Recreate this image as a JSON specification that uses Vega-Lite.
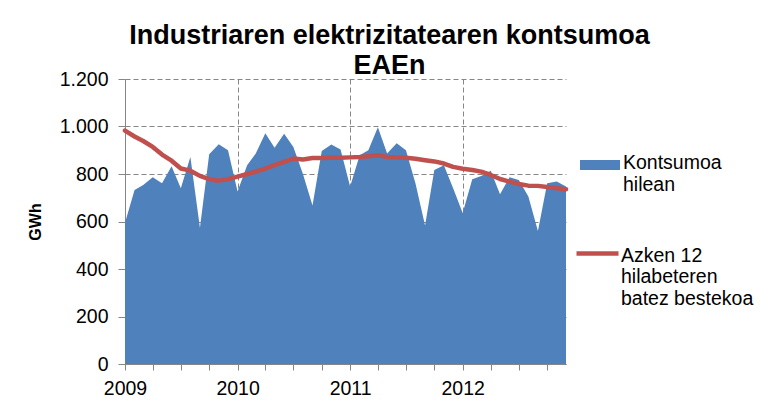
{
  "$schema": "https://vega.github.io/schema/vega-lite/v6.json",
  "width": 441,
  "height": 285,
  "autosize": {"type": "none"},
  "padding": {"left": 125, "top": 79, "right": 205, "bottom": 48},
  "background": "white",
  "config": {
    "view": {"stroke": null},
    "font": "Liberation Sans",
    "axis": {
      "labelFont": "Liberation Sans",
      "labelFontSize": 19.5,
      "labelColor": "#000000",
      "domainColor": "#868686",
      "tickColor": "#868686",
      "gridColor": "#868686",
      "gridDash": [5, 3],
      "tickSize": 6
    },
    "legend": {
      "labelFont": "Liberation Sans",
      "labelFontSize": 19.5,
      "labelColor": "#000000",
      "labelLimit": 300,
      "padding": 0
    }
  },
  "title": {
    "text": ["Industriaren elektrizitatearen kontsumoa", "EAEn"],
    "font": "Liberation Sans",
    "fontSize": 27,
    "fontWeight": "bold",
    "color": "#000000",
    "lineHeight": 30,
    "anchor": "middle",
    "frame": "group",
    "dx": 44,
    "dy": 15
  },
  "data": {
    "values": [
      {"date": "2009-01-01", "kontsumoa": 595, "batezbeste": 983},
      {"date": "2009-02-01", "kontsumoa": 733, "batezbeste": 958},
      {"date": "2009-03-01", "kontsumoa": 754, "batezbeste": 939},
      {"date": "2009-04-01", "kontsumoa": 786, "batezbeste": 914},
      {"date": "2009-05-01", "kontsumoa": 761, "batezbeste": 882},
      {"date": "2009-06-01", "kontsumoa": 833, "batezbeste": 856},
      {"date": "2009-07-01", "kontsumoa": 740, "batezbeste": 823},
      {"date": "2009-08-01", "kontsumoa": 872, "batezbeste": 814},
      {"date": "2009-09-01", "kontsumoa": 574, "batezbeste": 792},
      {"date": "2009-10-01", "kontsumoa": 883, "batezbeste": 778},
      {"date": "2009-11-01", "kontsumoa": 925, "batezbeste": 772},
      {"date": "2009-12-01", "kontsumoa": 900, "batezbeste": 778},
      {"date": "2010-01-01", "kontsumoa": 726, "batezbeste": 789},
      {"date": "2010-02-01", "kontsumoa": 837, "batezbeste": 800},
      {"date": "2010-03-01", "kontsumoa": 886, "batezbeste": 810},
      {"date": "2010-04-01", "kontsumoa": 972, "batezbeste": 823},
      {"date": "2010-05-01", "kontsumoa": 911, "batezbeste": 837},
      {"date": "2010-06-01", "kontsumoa": 969, "batezbeste": 851},
      {"date": "2010-07-01", "kontsumoa": 914, "batezbeste": 865},
      {"date": "2010-08-01", "kontsumoa": 800, "batezbeste": 861},
      {"date": "2010-09-01", "kontsumoa": 667, "batezbeste": 867},
      {"date": "2010-10-01", "kontsumoa": 897, "batezbeste": 867},
      {"date": "2010-11-01", "kontsumoa": 924, "batezbeste": 868},
      {"date": "2010-12-01", "kontsumoa": 903, "batezbeste": 868},
      {"date": "2011-01-01", "kontsumoa": 747, "batezbeste": 870},
      {"date": "2011-02-01", "kontsumoa": 879, "batezbeste": 872},
      {"date": "2011-03-01", "kontsumoa": 900, "batezbeste": 875},
      {"date": "2011-04-01", "kontsumoa": 997, "batezbeste": 879},
      {"date": "2011-05-01", "kontsumoa": 886, "batezbeste": 872},
      {"date": "2011-06-01", "kontsumoa": 930, "batezbeste": 870},
      {"date": "2011-07-01", "kontsumoa": 900, "batezbeste": 868},
      {"date": "2011-08-01", "kontsumoa": 760, "batezbeste": 864},
      {"date": "2011-09-01", "kontsumoa": 583, "batezbeste": 858},
      {"date": "2011-10-01", "kontsumoa": 817, "batezbeste": 853},
      {"date": "2011-11-01", "kontsumoa": 837, "batezbeste": 844},
      {"date": "2011-12-01", "kontsumoa": 740, "batezbeste": 830},
      {"date": "2012-01-01", "kontsumoa": 636, "batezbeste": 822},
      {"date": "2012-02-01", "kontsumoa": 778, "batezbeste": 817},
      {"date": "2012-03-01", "kontsumoa": 792, "batezbeste": 810},
      {"date": "2012-04-01", "kontsumoa": 814, "batezbeste": 796},
      {"date": "2012-05-01", "kontsumoa": 715, "batezbeste": 779},
      {"date": "2012-06-01", "kontsumoa": 786, "batezbeste": 768},
      {"date": "2012-07-01", "kontsumoa": 775, "batezbeste": 758},
      {"date": "2012-08-01", "kontsumoa": 705, "batezbeste": 751},
      {"date": "2012-09-01", "kontsumoa": 560, "batezbeste": 750},
      {"date": "2012-10-01", "kontsumoa": 761, "batezbeste": 745},
      {"date": "2012-11-01", "kontsumoa": 768, "batezbeste": 740},
      {"date": "2012-12-01", "kontsumoa": 747, "batezbeste": 736}
    ]
  },
  "encoding": {
    "x": {
      "field": "date",
      "type": "temporal",
      "scale": {"type": "utc", "nice": false},
      "axis": {
        "title": null,
        "tickCount": {"interval": "month", "step": 3},
        "labelExpr": "utcmonth(datum.value) === 0 ? utcFormat(datum.value, '%Y') : ''",
        "labelFlush": false,
        "labelOverlap": false,
        "labelPadding": 9,
        "gridOpacity": {"condition": {"test": "utcmonth(datum.value) === 0 && utcyear(datum.value) > 2009", "value": 1}, "value": 0}
      }
    }
  },
  "layer": [
    {
      "mark": {"type": "area"},
      "encoding": {
        "y": {
          "field": "kontsumoa",
          "type": "quantitative",
          "scale": {"domain": [0, 1200], "nice": false},
          "axis": {
            "title": "GWh",
            "titleFont": "Liberation Sans",
            "titleFontSize": 16,
            "titleFontWeight": "bold",
            "titleColor": "#000000",
            "titlePadding": 16,
            "values": [0, 200, 400, 600, 800, 1000, 1200],
            "labelExpr": "replace(format(datum.value, ','), ',', '.')",
            "labelPadding": 10,
            "tickSize": 7
          }
        },
        "fill": {
          "datum": "Kontsumoa hilean",
          "scale": {"range": ["#4F81BD"]},
          "legend": {
            "title": null,
            "orient": "none",
            "legendX": 455,
            "legendY": 55,
            "symbolType": "M-1,0.3H1V0.8H-1Z",
            "symbolSize": 1600,
            "symbolStrokeWidth": 0,
            "labelOffset": 3,
            "labelBaseline": "top",
            "labelExpr": "['Kontsumoa', 'hilean']"
          }
        }
      }
    },
    {
      "mark": {"type": "line", "strokeWidth": 4.5, "strokeCap": "round", "strokeJoin": "round"},
      "encoding": {
        "y": {"field": "batezbeste", "type": "quantitative"},
        "stroke": {
          "datum": "Azken 12 hilabeteren batez bestekoa",
          "scale": {"range": ["#C0504D"]},
          "legend": {
            "title": null,
            "orient": "none",
            "legendX": 449,
            "legendY": 144,
            "symbolType": "M-1,0.33H1",
            "symbolSize": 1764,
            "symbolStrokeWidth": 4.5,
            "symbolFillColor": "transparent",
            "labelOffset": 0,
            "labelBaseline": "top",
            "labelExpr": "['Azken 12', 'hilabeteren', 'batez bestekoa']"
          }
        }
      }
    }
  ]
}
